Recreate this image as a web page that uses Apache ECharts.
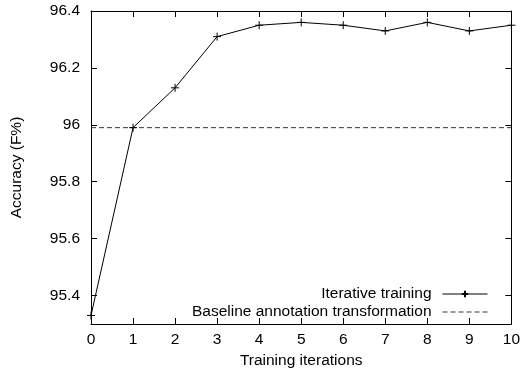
<!DOCTYPE html>
<html>
<head>
<meta charset="utf-8">
<script src="https://cdn.jsdelivr.net/npm/echarts@6/dist/echarts.min.js"></script>
<style>
  html, body {margin: 0; padding: 0; background: #fff;}
  #chart {width: 523px; height: 377px;}
</style>
</head>
<body>
<div id="chart"></div>
<script>
// values
const iterations = [0, 1, 2, 3, 4, 5, 6, 7, 8, 9, 10];
const iterative = [95.33, 95.99, 96.13, 96.31, 96.35, 96.36, 96.35, 96.33, 96.36, 96.33, 96.35];
const baseline = 95.99;
const yTicks = [95.4, 95.6, 95.8, 96, 96.2, 96.4];

const font = 'Liberation Sans, Arial, sans-serif';
const plus = 'path://M0,5L10,5M5,0L5,10';

const chart = echarts.init(document.getElementById('chart'));

const tickStyle = {inside: true, length: 6, lineStyle: {color: '#000', width: 1}};
const lineStyle = {show: true, onZero: false, lineStyle: {color: '#000', width: 1}};

chart.setOption({
    animation: false,
    textStyle: {fontFamily: font, color: '#000'},
    grid: {left: 91, right: 11, top: 11, bottom: 53},
    legend: {
        orient: 'vertical',
        right: 30,
        bottom: 52,
        align: 'right',
        itemWidth: 45,
        itemHeight: 8,
        itemGap: 2,
        lineStyle: {width: 1},
        textStyle: {fontSize: 15.5, color: '#000', fontFamily: font, padding: [0, 6, 0, 0]},
        data: [
            'Iterative training',
            {name: 'Baseline annotation transformation', itemStyle: {color: 'transparent', borderColor: 'transparent'}}
        ]
    },
    xAxis: [{
        type: 'value',
        min: 0, max: 10, interval: 1,
        name: 'Training iterations',
        nameLocation: 'middle',
        nameGap: 23,
        nameTextStyle: {fontSize: 15.5, color: '#000'},
        axisLine: lineStyle,
        axisTick: tickStyle,
        axisLabel: {fontSize: 15.5, color: '#000', margin: 8},
        splitLine: {show: false}
    }, {
        type: 'value',
        position: 'top',
        min: 0, max: 10, interval: 1,
        axisLine: lineStyle,
        axisTick: tickStyle,
        axisLabel: {show: false},
        splitLine: {show: false}
    }],
    yAxis: [{
        type: 'value',
        min: 95.3, max: 96.4,
        name: 'Accuracy (F%)',
        nameLocation: 'middle',
        nameGap: 66,
        nameTextStyle: {fontSize: 15.5, color: '#000'},
        axisLine: lineStyle,
        axisTick: Object.assign({customValues: yTicks}, tickStyle),
        axisLabel: {
            customValues: yTicks, fontSize: 15.5, color: '#000', margin: 11,
            formatter: v => String(+v.toFixed(1))
        },
        splitLine: {show: false}
    }, {
        type: 'value',
        position: 'right',
        min: 95.3, max: 96.4,
        axisLine: lineStyle,
        axisTick: Object.assign({customValues: yTicks}, tickStyle),
        axisLabel: {show: false},
        splitLine: {show: false}
    }],
    series: [{
        name: 'Iterative training',
        type: 'line',
        data: iterations.map((x, i) => [x, iterative[i]]),
        symbol: plus,
        symbolSize: 8,
        showSymbol: true,
        lineStyle: {color: '#000', width: 1},
        itemStyle: {color: 'none', borderColor: '#000', borderWidth: 1},
        z: 3
    }, {
        name: 'Baseline annotation transformation',
        type: 'line',
        data: iterations.map(x => [x, baseline]),
        symbol: 'none',
        lineStyle: {color: '#333', width: 1, type: [5, 3]},
        itemStyle: {color: '#333'},
        z: 2
    }]
});
</script>
</body>
</html>
